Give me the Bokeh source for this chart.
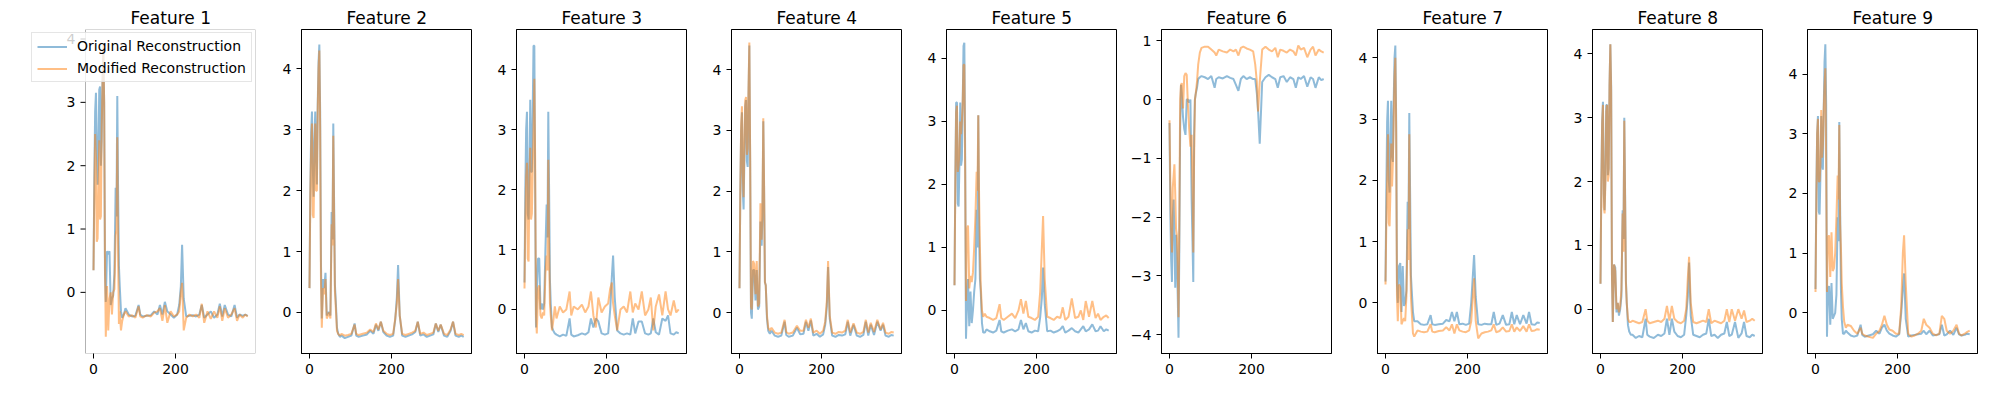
from bokeh.plotting import figure
from bokeh.models import (Range1d, FixedTicker, Legend, LegendItem, CustomJSTickFormatter,
                          BoxAnnotation)
from bokeh.core.properties import value
from bokeh.layouts import row
from bokeh.embed import file_html
from bokeh.resources import INLINE

# time steps (dense at the start, coarser on the flat tail)
steps = [0, 2, 4, 6, 8, 10, 12, 14, 16, 18, 20, 22, 24, 26, 28, 30,
         33, 36, 39, 42, 45, 48, 51, 54, 56, 58, 60, 62, 64, 67, 70, 74,
         78, 86, 94, 102, 110, 114, 120, 130, 140, 148, 156,
         162, 168, 174, 180, 188, 196, 204, 209, 213, 216, 220,
         226, 234, 242, 250, 258, 264, 270, 278, 286, 294, 302,
         308, 314, 320, 328, 336, 344, 350, 356, 364, 370, 376]

orig_1 = [0.35, 1.8, 2.85, 3.15, 2.3, 1.7, 2.2, 3.2, 3.25, 2.0, 2.4, 3.4, 3.8, 3.0, 0.3, -0.15,
          0.65, 0.6, 0.65, -0.2, -0.1, -0.05, 0.3, 1.65, 1.2, 3.1, 1.6, 0.42, 0.1, -0.3, -0.4, -0.35,
          -0.25, -0.35, -0.38, -0.37, -0.2, -0.35, -0.38, -0.37, -0.36, -0.3, -0.35,
          -0.2, -0.35, -0.15, -0.3, -0.35, -0.4, -0.35, -0.2, 0.1, 0.75, -0.1,
          -0.38, -0.37, -0.36, -0.38, -0.35, -0.2, -0.4, -0.35, -0.3, -0.4, -0.35,
          -0.18, -0.38, -0.2, -0.35, -0.38, -0.2, -0.4, -0.35, -0.37, -0.35, -0.37]
mod_1 = [0.35, 1.5, 2.5, 2.1, 0.8, 0.85, 1.6, 2.4, 1.15, 1.2, 2.6, 3.3, 3.9, 3.0, 0.5, -0.7,
         0.1, -0.6, -0.1, 0.0, -0.35, 0.0, 0.05, 0.9, 1.0, 2.45, 0.6, -0.5, -0.3, -0.6, -0.45, -0.35,
         -0.3, -0.38, -0.36, -0.4, -0.22, -0.38, -0.4, -0.36, -0.38, -0.32, -0.3,
         -0.25, -0.45, -0.2, -0.48, -0.3, -0.38, -0.35, -0.3, 0.0, 0.15, -0.6,
         -0.4, -0.35, -0.38, -0.35, -0.4, -0.18, -0.48, -0.3, -0.42, -0.3, -0.4,
         -0.22, -0.45, -0.25, -0.4, -0.35, -0.25, -0.45, -0.35, -0.4, -0.35, -0.38]

orig_2 = [0.4, 2.0, 2.95, 3.3, 2.4, 1.9, 2.8, 3.3, 2.5, 2.1, 3.4, 4.1, 4.4, 3.3, 0.8, -0.1,
          0.55, 0.4, 0.65, -0.05, 0.0, 0.0, -0.05, 1.65, 1.2, 3.1, 1.8, 0.45, 0.2, -0.25, -0.35, -0.4,
          -0.38, -0.42, -0.4, -0.38, -0.18, -0.38, -0.4, -0.38, -0.36, -0.3, -0.35,
          -0.2, -0.3, -0.15, -0.32, -0.38, -0.4, -0.38, -0.12, 0.25, 0.78, -0.05,
          -0.38, -0.4, -0.38, -0.36, -0.32, -0.15, -0.38, -0.36, -0.4, -0.38, -0.36,
          -0.18, -0.32, -0.2, -0.38, -0.4, -0.3, -0.15, -0.38, -0.4, -0.38, -0.4]
mod_2 = [0.4, 1.9, 2.7, 3.1, 1.6, 1.55, 2.5, 3.1, 2.0, 2.0, 3.3, 4.0, 4.3, 3.0, 0.5, -0.25,
         0.4, 0.3, 0.55, -0.1, -0.05, 0.0, -0.1, 1.45, 1.1, 2.9, 1.6, 0.35, 0.1, -0.3, -0.35, -0.38,
         -0.35, -0.38, -0.37, -0.35, -0.2, -0.35, -0.37, -0.35, -0.33, -0.28, -0.32,
         -0.18, -0.28, -0.15, -0.3, -0.35, -0.37, -0.35, -0.1, 0.15, 0.55, -0.05,
         -0.35, -0.37, -0.35, -0.33, -0.3, -0.15, -0.35, -0.33, -0.37, -0.35, -0.33,
         -0.18, -0.3, -0.2, -0.35, -0.37, -0.28, -0.15, -0.35, -0.37, -0.35, -0.37]

orig_3 = [0.45, 2.0, 3.0, 3.3, 1.6, 1.5, 2.3, 3.5, 2.3, 2.3, 3.3, 4.4, 4.4, 2.0, -0.3, 0.3,
          0.85, 0.85, 0.0, 0.1, 0.0, 0.1, 1.0, 1.75, 1.2, 3.3, 2.0, 0.5, 0.1, -0.3, -0.35, -0.4,
          -0.42, -0.45, -0.42, -0.44, -0.15, -0.42, -0.45, -0.43, -0.4, -0.42, -0.38,
          -0.15, -0.3, -0.15, -0.2, -0.4, -0.42, -0.4, 0.0, 0.55, 0.9, 0.2,
          -0.35, -0.4, -0.42, -0.4, -0.42, -0.15, -0.4, -0.2, -0.2, -0.4, -0.42,
          -0.4, -0.15, -0.38, -0.42, -0.15, -0.19, -0.1, -0.4, -0.42, -0.38, -0.4]
mod_3 = [0.35, 1.5, 2.2, 2.45, 0.85, 0.8, 2.2, 2.7, 1.5, 1.6, 2.3, 3.0, 3.85, 2.5, -0.1, -0.4,
         0.35, 0.4, -0.1, -0.15, -0.05, -0.1, 0.6, 0.9, 0.65, 2.5, 1.0, 0.1, -0.1, -0.35, -0.2, 0.05,
         -0.15, 0.05, -0.05, 0.0, 0.3, -0.1, 0.05, 0.0, 0.08, -0.05, 0.05,
         0.3, -0.1, -0.3, 0.2, -0.05, 0.05, 0.1, 0.35, 0.45, 0.1, -0.1,
         -0.35, 0.0, 0.05, -0.05, 0.3, -0.05, 0.1, 0.0, 0.3, -0.1, 0.0,
         0.2, -0.35, 0.05, 0.25, -0.1, 0.3, 0.0, -0.1, 0.15, -0.05, 0.0]

orig_4 = [0.4, 2.0, 3.0, 3.3, 2.0, 1.7, 2.6, 3.4, 3.5, 2.5, 2.4, 3.6, 4.4, 2.5, 0.0, -0.1,
          0.7, 0.7, 0.2, 0.7, 0.05, 0.1, 1.5, 1.1, 1.6, 3.15, 2.0, 0.5, 0.45, -0.1, -0.3, -0.35,
          -0.3, -0.38, -0.4, -0.38, -0.15, -0.37, -0.4, -0.38, -0.25, -0.36, -0.35,
          -0.15, -0.3, -0.13, -0.38, -0.35, -0.4, -0.36, -0.2, 0.1, 0.75, -0.1,
          -0.38, -0.4, -0.37, -0.38, -0.36, -0.15, -0.38, -0.2, -0.38, -0.4, -0.37,
          -0.15, -0.38, -0.2, -0.37, -0.15, -0.3, -0.2, -0.38, -0.4, -0.37, -0.38]
mod_4 = [0.4, 2.0, 3.1, 3.4, 2.3, 1.9, 2.8, 3.5, 3.55, 2.6, 2.7, 3.7, 4.45, 2.6, 0.1, 0.05,
         0.85, 0.8, 0.3, 0.85, 0.1, 0.15, 1.8, 1.2, 1.8, 3.2, 2.1, 0.5, 0.45, -0.05, -0.25, -0.3,
         -0.25, -0.33, -0.35, -0.33, -0.12, -0.32, -0.35, -0.33, -0.22, -0.3, -0.3,
         -0.12, -0.25, -0.1, -0.33, -0.3, -0.35, -0.3, -0.15, 0.2, 0.85, -0.05,
         -0.33, -0.35, -0.32, -0.33, -0.3, -0.12, -0.33, -0.18, -0.33, -0.35, -0.32,
         -0.12, -0.33, -0.17, -0.32, -0.12, -0.28, -0.17, -0.33, -0.35, -0.32, -0.33]

orig_5 = [0.4, 2.1, 3.3, 3.3, 1.7, 1.65, 2.3, 3.3, 2.3, 2.4, 3.3, 4.2, 4.25, 2.5, -0.45, 0.0,
          0.5, -0.25, 0.3, -0.2, 0.0, 0.3, 0.5, 1.6, 1.0, 3.1, 1.2, 0.5, 0.3, -0.2, -0.35, -0.35,
          -0.3, -0.33, -0.35, -0.32, -0.15, -0.33, -0.35, -0.32, -0.3, -0.33, -0.3,
          -0.15, -0.3, -0.2, -0.33, -0.35, -0.32, -0.33, -0.1, 0.2, 0.68, 0.1,
          -0.33, -0.32, -0.35, -0.33, -0.3, -0.25, -0.35, -0.32, -0.28, -0.33, -0.35,
          -0.3, -0.25, -0.33, -0.3, -0.22, -0.33, -0.32, -0.25, -0.33, -0.3, -0.32]
mod_5 = [0.4, 2.0, 3.15, 3.25, 2.2, 2.3, 2.5, 3.0, 2.8, 3.0, 3.3, 3.9, 3.9, 2.2, 0.15, 1.25,
         1.35, 0.35, 0.55, 0.45, 0.6, 1.0, 1.5, 2.2, 1.9, 3.1, 1.8, 1.0, 0.4, 0.0, -0.1, -0.05,
         -0.1, -0.12, -0.15, -0.12, 0.1, -0.12, -0.15, -0.1, -0.05, -0.12, 0.0,
         0.18, -0.05, 0.15, -0.1, -0.12, -0.15, -0.1, 0.3, 1.0, 1.5, 0.5,
         -0.1, -0.12, -0.15, -0.1, -0.12, 0.05, -0.15, -0.1, 0.19, -0.12, -0.1,
         0.0, -0.15, 0.15, -0.1, 0.15, -0.12, -0.05, -0.15, -0.1, -0.08, -0.12]

orig_6 = [-0.4, -1.9, -2.7, -3.1, -2.0, -1.7, -2.3, -3.2, -2.3, -2.6, -3.3, -4.05, -2.5, -0.5, 0.25, 0.1,
          -0.3, -0.5, -0.6, 0.0, 0.0, -0.05, 0.0, -1.7, -2.4, -3.1, -0.6, 0.0, 0.1, 0.2, 0.35, 0.38,
          0.4, 0.38, 0.35, 0.4, 0.2, 0.35, 0.38, 0.36, 0.4, 0.37, 0.35,
          0.25, 0.15, 0.35, 0.4, 0.35, 0.38, 0.35, 0.35, 0.1, -0.2, -0.75,
          0.3, 0.38, 0.42, 0.38, 0.35, 0.2, 0.38, 0.4, 0.3, 0.38, 0.35,
          0.2, 0.38, 0.35, 0.4, 0.22, 0.38, 0.35, 0.2, 0.38, 0.33, 0.35]
mod_6 = [-0.35, -1.4, -2.2, -2.6, -1.5, -1.3, -1.1, -1.6, -2.2, -2.3, -2.8, -3.7, -2.0, 0.0, 0.25, 0.28,
         -0.15, 0.4, 0.45, 0.42, -0.1, -0.5, -0.8, -0.6, -1.5, -2.6, -1.0, 0.0, 0.1, 0.3, 0.6, 0.8,
         0.88, 0.9, 0.9, 0.85, 0.8, 0.75, 0.85, 0.82, 0.8, 0.85, 0.82,
         0.85, 0.75, 0.88, 0.9, 0.87, 0.85, 0.82, 0.6, 0.3, -0.2, 0.3,
         0.85, 0.9, 0.85, 0.82, 0.88, 0.72, 0.85, 0.83, 0.8, 0.85, 0.82,
         0.75, 0.92, 0.85, 0.88, 0.72, 0.85, 0.9, 0.75, 0.85, 0.82, 0.8]

orig_7 = [0.35, 1.8, 2.95, 3.3, 2.0, 1.8, 2.6, 3.3, 2.4, 2.3, 3.3, 4.0, 4.2, 3.0, 0.3, 0.0,
          0.6, 0.65, -0.15, 0.6, -0.05, 0.0, 0.2, 1.65, 1.2, 3.1, 1.8, 0.45, 0.2, -0.15, -0.3, -0.3,
          -0.3, -0.35, -0.36, -0.35, -0.2, -0.35, -0.36, -0.35, -0.34, -0.28, -0.3,
          -0.15, -0.3, -0.15, -0.35, -0.34, -0.36, -0.34, 0.0, 0.45, 0.78, 0.1,
          -0.35, -0.36, -0.34, -0.35, -0.35, -0.15, -0.36, -0.34, -0.2, -0.36, -0.35,
          -0.15, -0.35, -0.2, -0.35, -0.2, -0.34, -0.15, -0.35, -0.36, -0.32, -0.33]
mod_7 = [0.3, 1.3, 2.0, 2.75, 1.3, 1.25, 1.8, 2.6, 1.9, 2.3, 3.0, 3.7, 4.0, 2.8, 0.1, -0.3,
         0.3, 0.25, -0.35, -0.3, -0.25, -0.3, 0.1, 1.2, 0.7, 2.75, 1.0, 0.1, -0.15, -0.5, -0.55, -0.5,
         -0.45, -0.47, -0.48, -0.47, -0.35, -0.47, -0.48, -0.46, -0.45, -0.4, -0.45,
         -0.35, -0.5, -0.35, -0.45, -0.47, -0.48, -0.45, -0.3, 0.1, 0.4, -0.3,
         -0.58, -0.5, -0.48, -0.47, -0.45, -0.35, -0.48, -0.46, -0.4, -0.47, -0.46,
         -0.35, -0.47, -0.4, -0.46, -0.38, -0.47, -0.35, -0.46, -0.45, -0.43, -0.44]

orig_8 = [0.4, 1.95, 2.95, 3.25, 1.8, 1.55, 2.1, 3.2, 3.2, 2.1, 2.2, 3.5, 4.15, 3.5, 0.5, -0.2,
          0.7, 0.65, -0.05, 0.1, -0.1, 0.0, 0.2, 1.55, 1.1, 3.0, 1.8, 0.45, 0.1, -0.25, -0.35, -0.4,
          -0.4, -0.45, -0.42, -0.44, -0.15, -0.4, -0.43, -0.45, -0.4, -0.42, -0.38,
          -0.15, -0.4, -0.15, -0.35, -0.42, -0.44, -0.4, -0.1, 0.2, 0.73, -0.1,
          -0.4, -0.42, -0.44, -0.4, -0.38, -0.15, -0.42, -0.4, -0.45, -0.4, -0.38,
          -0.2, -0.42, -0.4, -0.2, -0.45, -0.38, -0.2, -0.42, -0.44, -0.4, -0.42]
mod_8 = [0.4, 1.9, 2.9, 3.2, 1.6, 1.5, 2.0, 3.1, 3.2, 2.0, 2.1, 3.5, 4.15, 3.4, 0.5, -0.2,
         0.7, 0.6, 0.0, 0.1, -0.05, 0.05, 0.3, 1.5, 0.9, 2.95, 1.7, 0.4, 0.1, -0.15, -0.2, -0.2,
         -0.18, -0.2, -0.22, -0.2, 0.0, -0.18, -0.22, -0.2, -0.18, -0.2, -0.15,
         0.05, -0.18, 0.05, -0.15, -0.2, -0.22, -0.18, 0.0, 0.5, 0.82, 0.1,
         -0.2, -0.22, -0.2, -0.18, -0.2, 0.0, -0.22, -0.18, -0.2, -0.22, -0.18,
         0.0, -0.2, 0.0, -0.18, 0.0, -0.15, -0.02, -0.2, -0.18, -0.15, -0.18]

orig_9 = [0.4, 2.05, 3.0, 3.3, 1.7, 1.65, 2.3, 3.3, 2.5, 2.4, 3.4, 4.2, 4.5, 3.5, -0.4, 0.3,
          0.45, -0.2, 0.5, -0.1, -0.05, 0.0, 0.3, 1.6, 1.2, 3.2, 1.8, 0.4, -0.1, -0.35, -0.35, -0.3,
          -0.33, -0.38, -0.4, -0.38, -0.2, -0.37, -0.4, -0.38, -0.36, -0.3, -0.35,
          -0.25, -0.2, -0.3, -0.35, -0.38, -0.4, -0.36, 0.0, 0.4, 0.66, -0.1,
          -0.4, -0.38, -0.37, -0.36, -0.35, -0.3, -0.36, -0.3, -0.38, -0.37, -0.36,
          -0.2, -0.38, -0.36, -0.3, -0.37, -0.25, -0.36, -0.38, -0.37, -0.35, -0.36]
mod_9 = [0.35, 1.8, 3.0, 3.25, 2.2, 2.2, 2.5, 3.4, 2.6, 2.8, 3.4, 3.8, 4.1, 2.5, 0.35, 1.25,
         1.3, 0.6, 1.35, 0.7, 0.75, 1.0, 1.6, 2.3, 1.9, 3.15, 1.5, 1.1, 0.5, 0.1, -0.15, -0.25,
         -0.2, -0.22, -0.3, -0.35, -0.25, -0.35, -0.38, -0.4, -0.42, -0.35, -0.3,
         -0.2, -0.05, -0.2, -0.28, -0.3, -0.35, -0.35, 0.1, 1.0, 1.3, 0.5,
         -0.35, -0.4, -0.38, -0.35, -0.3, -0.1, -0.2, -0.25, -0.35, -0.38, -0.35,
         -0.05, -0.1, -0.3, -0.35, -0.3, -0.2, -0.35, -0.38, -0.35, -0.32, -0.3]

originals = [orig_1, orig_2, orig_3, orig_4, orig_5, orig_6, orig_7, orig_8, orig_9]
modified = [mod_1, mod_2, mod_3, mod_4, mod_5, mod_6, mod_7, mod_8, mod_9]

# axis limits and ticks per panel
y_limits = [(-0.965, 4.15), (-0.673, 4.645), (-0.735, 4.673), (-0.675, 4.664), (-0.683, 4.46),
            (-4.318, 1.192), (-0.827, 4.462), (-0.694, 4.381), (-0.682, 4.749)]
y_ticks = [[0, 1, 2, 3, 4]] * 5 + [[-4, -3, -2, -1, 0, 1]] + [[0, 1, 2, 3, 4]] * 3
x_ticks = [0, 200]
X_LO, X_HI = -19.5, 395

BLUE = "#1f77b4"
ORANGE = "#ff7f0e"
FONT = "DejaVu Sans"
FRAME_W = 170
left_pad = [85, 41, 40, 40, 40, 40, 41, 40, 40]
LEGEND_OVERHANG = 54      # legend of panel 1 reaches this far left of the axes box
TITLE_HALF = 40           # half width of "Feature N" at 17px

minus_fmt = "return (tick < 0 ? '\u2212' : '') + Math.abs(tick).toString();"


def tick_label(t):
    return ("\u2212" if t < 0 else "") + str(abs(t))


figs = []
for i in range(9):
    first = i == 0
    px_per_unit = FRAME_W / (X_HI - X_LO)
    if first:
        # widen the frame to the left so the legend can hang over the y labels
        x_lo = X_LO - LEGEND_OVERHANG / px_per_unit
        frame_w = FRAME_W + LEGEND_OVERHANG
        border_l = left_pad[i] - LEGEND_OVERHANG
        shift = LEGEND_OVERHANG
    else:
        x_lo, frame_w, border_l, shift = X_LO, FRAME_W, left_pad[i], 0

    p = figure(frame_width=frame_w, frame_height=324,
               x_range=Range1d(x_lo, X_HI), y_range=Range1d(*y_limits[i]),
               title=f"Feature {i + 1}", output_backend="svg", toolbar_location=None,
               min_border_left=border_l, min_border_right=5,
               min_border_top=29, min_border_bottom=30)
    # title offset is measured from the frame's left edge
    p.title.align = "left"
    p.title.offset = shift + FRAME_W / 2 - TITLE_HALF
    p.title.text_font = FONT
    p.title.text_font_size = "17px"
    p.title.text_font_style = "normal"
    p.title.text_color = "black"
    p.title.standoff = 4
    p.grid.visible = False
    p.outline_line_color = "black"
    p.outline_line_width = 1
    for ax in (p.xaxis, p.yaxis):
        ax.major_tick_in = 0
        ax.major_tick_out = 5
        ax.minor_tick_line_color = None
        ax.major_label_text_font = FONT
        ax.major_label_text_font_size = "14px"
        ax.major_label_text_color = "black"
        ax.major_label_standoff = 5
        ax.axis_line_color = "black"
        ax.major_tick_line_color = "black"
        ax.formatter = CustomJSTickFormatter(code=minus_fmt)
    p.xaxis.ticker = FixedTicker(ticks=x_ticks)
    p.yaxis.ticker = FixedTicker(ticks=y_ticks[i])

    if first:
        p.outline_line_color = None
        p.xaxis.axis_line_color = None
        p.yaxis.visible = False
        p.add_layout(BoxAnnotation(left=X_LO, fill_color=None, line_color="black",
                                   line_width=1, level="underlay"))
        tk = y_ticks[i]
        tick_len = 5 / px_per_unit
        p.segment(x0=[X_LO - tick_len] * len(tk), x1=[X_LO] * len(tk), y0=tk, y1=tk,
                  line_color="black", line_width=1)
        p.text(x=[X_LO] * len(tk), y=tk, text=[tick_label(t) for t in tk],
               x_offset=-10, text_align="right", text_baseline="middle",
               text_font=value(FONT), text_font_size="14px", text_color="black")

    r_orig = p.line(steps, originals[i], line_color=BLUE, line_alpha=0.5, line_width=2)
    r_mod = p.line(steps, modified[i], line_color=ORANGE, line_alpha=0.5, line_width=2)

    if first:
        legend = Legend(items=[LegendItem(label="Original Reconstruction", renderers=[r_orig]),
                               LegendItem(label="Modified Reconstruction", renderers=[r_mod])],
                        location=(0, 271))
        legend.margin = 0
        legend.padding = 5
        legend.spacing = 6
        legend.glyph_width = 30
        legend.glyph_height = 15
        legend.label_height = 15
        legend.label_standoff = 10
        legend.label_text_font = FONT
        legend.label_text_font_size = "14px"
        legend.label_text_color = "black"
        legend.background_fill_color = "white"
        legend.background_fill_alpha = 0.8
        legend.border_line_color = "#cccccc"
        legend.border_line_width = 1
        p.add_layout(legend)
    figs.append(p)

layout = row(*figs)
open("out.html", "w").write(file_html(layout, INLINE))
